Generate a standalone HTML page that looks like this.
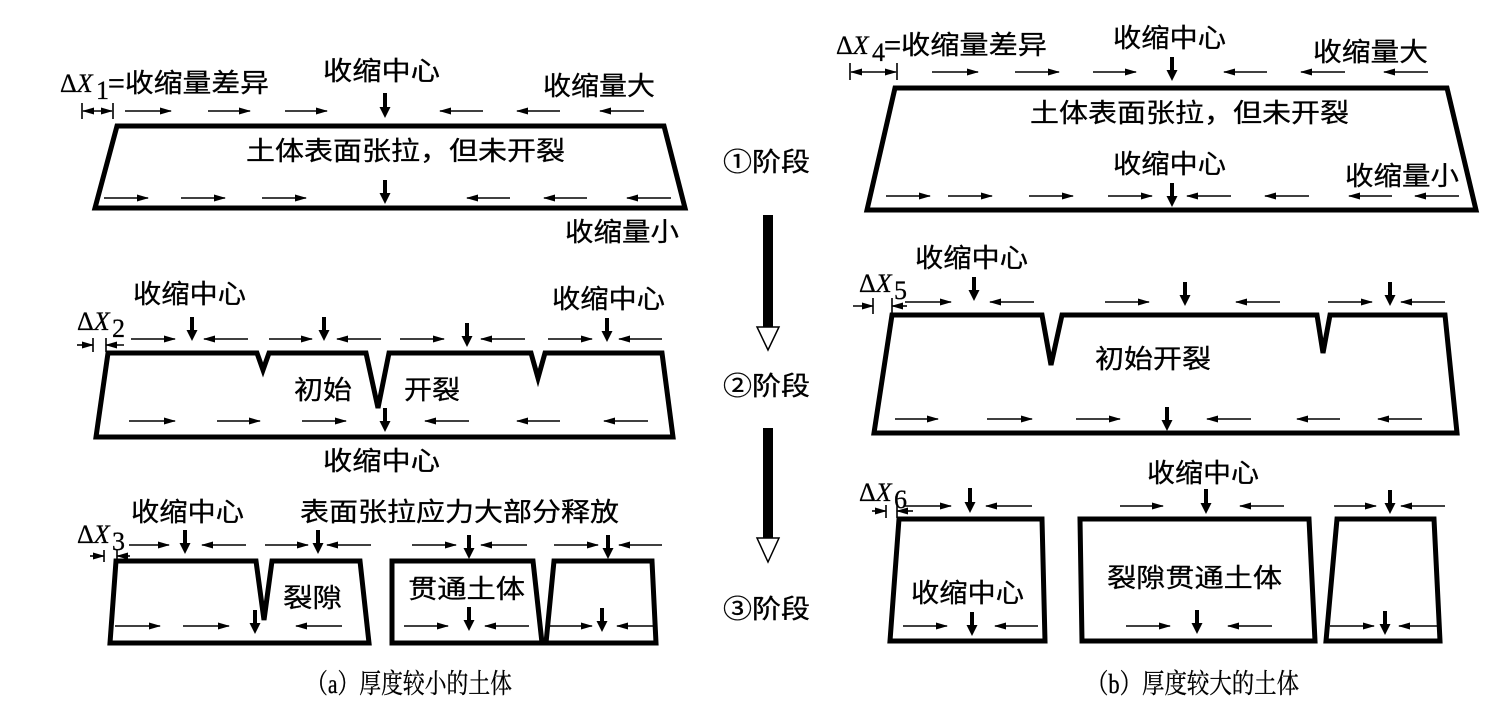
<!DOCTYPE html>
<html><head><meta charset="utf-8"><style>
html,body{margin:0;padding:0;background:#fff;}
svg{display:block;}
text{font-family:"Liberation Sans","Noto Sans CJK SC",sans-serif;font-size:26px;fill:#000;stroke:#000;stroke-width:0.3;}
.s{font-family:"Liberation Serif","Noto Serif CJK SC",serif;}
.cap{font-family:"Liberation Serif","Noto Serif CJK SC",serif;font-size:27px;}
.sh{fill:none;stroke:#000;stroke-width:5;stroke-linejoin:miter;}
.a{stroke:#000;stroke-width:1.6;marker-end:url(#h);}
.d{stroke:#000;stroke-width:4;marker-end:url(#hd);}
.t{stroke:#000;stroke-width:1.6;}
.dm{stroke:#000;stroke-width:1.6;marker-end:url(#h);marker-start:url(#h);}
</style></head><body>
<svg width="1510" height="717" viewBox="0 0 1510 717" xmlns="http://www.w3.org/2000/svg">
<defs>
<marker id="h" markerUnits="userSpaceOnUse" markerWidth="12" markerHeight="8" refX="11" refY="4" orient="auto-start-reverse"><path d="M0,0.5 L12,4 L0,7.5 Z" fill="#000"/></marker>
<marker id="hd" markerUnits="userSpaceOnUse" markerWidth="11" markerHeight="11" refX="6" refY="5.5" orient="auto"><path d="M0,0 L11,5.5 L0,11 Z" fill="#000"/></marker>
</defs>

<!-- ============ LEFT (a) ============ -->
<text class="s" x="60" y="92" font-size="28">Δ<tspan font-style="italic">X</tspan></text>
<text class="s" x="96" y="99" font-size="19">1</text>
<text x="108" y="92" textLength="161" lengthAdjust="spacingAndGlyphs">=收缩量差异</text>
<text x="323" y="80" textLength="117" lengthAdjust="spacingAndGlyphs">收缩中心</text>
<text x="543" y="95" textLength="112" lengthAdjust="spacingAndGlyphs">收缩量大</text>
<line class="t" x1="82" y1="103" x2="82" y2="119"/><line class="t" x1="113" y1="103" x2="113" y2="119"/>
<line class="dm" x1="83" y1="111" x2="112" y2="111"/>
<line class="a" x1="125" y1="111" x2="171" y2="111"/>
<line class="a" x1="208" y1="111" x2="250" y2="111"/>
<line class="a" x1="285" y1="111" x2="327" y2="111"/>
<line class="d" x1="385" y1="93" x2="385" y2="113"/>
<line class="a" x1="483" y1="111" x2="440" y2="111"/>
<line class="a" x1="560" y1="111" x2="517" y2="111"/>
<line class="a" x1="644" y1="111" x2="600" y2="111"/>
<polygon class="sh" points="117,126 664,126 685,208 95,208"/>
<text x="246" y="160" textLength="319" lengthAdjust="spacingAndGlyphs">土体表面张拉，但未开裂</text>
<line class="a" x1="104" y1="198" x2="148" y2="198"/>
<line class="a" x1="181" y1="198" x2="225" y2="198"/>
<line class="a" x1="262" y1="198" x2="306" y2="198"/>
<line class="d" x1="385" y1="180" x2="385" y2="199"/>
<line class="a" x1="510" y1="198" x2="467" y2="198"/>
<line class="a" x1="587" y1="198" x2="544" y2="198"/>
<line class="a" x1="671" y1="198" x2="627" y2="198"/>
<text x="565" y="241" textLength="114" lengthAdjust="spacingAndGlyphs">收缩量小</text>

<text x="133" y="303" textLength="113" lengthAdjust="spacingAndGlyphs">收缩中心</text>
<text x="552" y="308" textLength="113" lengthAdjust="spacingAndGlyphs">收缩中心</text>
<text class="s" x="77" y="330" font-size="28">Δ<tspan font-style="italic">X</tspan></text>
<text class="s" x="112" y="337" font-size="19">2</text>
<line class="t" x1="93" y1="338" x2="93" y2="352"/><line class="t" x1="106" y1="338" x2="106" y2="352"/>
<line class="a" x1="77" y1="345" x2="93" y2="345"/>
<line class="a" x1="124" y1="345" x2="106" y2="345"/>
<line class="a" x1="131" y1="339" x2="175" y2="339"/>
<line class="d" x1="192" y1="317" x2="192" y2="336"/>
<line class="a" x1="248" y1="339" x2="204" y2="339"/>
<line class="a" x1="269" y1="339" x2="312" y2="339"/>
<line class="d" x1="324" y1="317" x2="324" y2="336"/>
<line class="a" x1="381" y1="339" x2="337" y2="339"/>
<line class="a" x1="400" y1="339" x2="444" y2="339"/>
<line class="d" x1="467" y1="323" x2="467" y2="342"/>
<line class="a" x1="525" y1="339" x2="481" y2="339"/>
<line class="a" x1="548" y1="339" x2="592" y2="339"/>
<line class="d" x1="607" y1="318" x2="607" y2="337"/>
<line class="a" x1="662" y1="339" x2="619" y2="339"/>
<path class="sh" d="M108,353 L257,353 L263,370 L269,353 L366,353 L378,408 L389,353 L531,353 L538,378 L545,353 L662,353 L673,437 L96,437 Z"/>
<text x="294" y="399" textLength="58" lengthAdjust="spacingAndGlyphs">初始</text>
<text x="404" y="399" textLength="56" lengthAdjust="spacingAndGlyphs">开裂</text>
<line class="a" x1="129" y1="421" x2="175" y2="421"/>
<line class="a" x1="217" y1="421" x2="260" y2="421"/>
<line class="a" x1="302" y1="421" x2="346" y2="421"/>
<line class="d" x1="385" y1="408" x2="385" y2="427"/>
<line class="a" x1="469" y1="421" x2="425" y2="421"/>
<line class="a" x1="560" y1="421" x2="517" y2="421"/>
<line class="a" x1="648" y1="421" x2="604" y2="421"/>
<text x="323" y="470" textLength="117" lengthAdjust="spacingAndGlyphs">收缩中心</text>

<text x="131" y="521" textLength="113" lengthAdjust="spacingAndGlyphs">收缩中心</text>
<text x="300" y="521" textLength="319" lengthAdjust="spacingAndGlyphs">表面张拉应力大部分释放</text>
<text class="s" x="77" y="543" font-size="28">Δ<tspan font-style="italic">X</tspan></text>
<text class="s" x="112" y="550" font-size="19">3</text>
<line class="t" x1="104" y1="550" x2="104" y2="562"/><line class="t" x1="117" y1="550" x2="117" y2="562"/>
<line class="a" x1="90" y1="556" x2="104" y2="556"/>
<line class="a" x1="130" y1="556" x2="117" y2="556"/>
<line class="a" x1="129" y1="545" x2="169" y2="545"/>
<line class="d" x1="185" y1="530" x2="185" y2="549"/>
<line class="a" x1="246" y1="545" x2="202" y2="545"/>
<line class="a" x1="265" y1="545" x2="308" y2="545"/>
<line class="d" x1="318" y1="530" x2="318" y2="549"/>
<line class="a" x1="371" y1="545" x2="327" y2="545"/>
<line class="a" x1="412" y1="545" x2="456" y2="545"/>
<line class="d" x1="469" y1="535" x2="469" y2="554"/>
<line class="a" x1="527" y1="545" x2="481" y2="545"/>
<line class="a" x1="554" y1="545" x2="598" y2="545"/>
<line class="d" x1="608" y1="535" x2="608" y2="554"/>
<line class="a" x1="662" y1="545" x2="619" y2="545"/>
<path class="sh" d="M116,561 L256,561 L264,620 L272,561 L360,561 L369,643 L110,643 Z"/>
<polygon class="sh" points="392,561 533,561 542,643 392,643"/>
<polygon class="sh" points="554,561 652,561 656,643 546,643"/>
<text x="283" y="607" textLength="59" lengthAdjust="spacingAndGlyphs">裂隙</text>
<text x="408" y="598" textLength="117" lengthAdjust="spacingAndGlyphs">贯通土体</text>
<line class="a" x1="115" y1="626" x2="160" y2="626"/>
<line class="a" x1="183" y1="626" x2="229" y2="626"/>
<line class="d" x1="255" y1="610" x2="255" y2="629"/>
<line class="a" x1="342" y1="626" x2="296" y2="626"/>
<line class="a" x1="404" y1="626" x2="448" y2="626"/>
<line class="d" x1="469" y1="607" x2="469" y2="626"/>
<line class="a" x1="529" y1="626" x2="485" y2="626"/>
<line class="a" x1="550" y1="626" x2="592" y2="626"/>
<line class="d" x1="602" y1="608" x2="602" y2="627"/>
<line class="a" x1="654" y1="626" x2="617" y2="626"/>
<text class="cap" x="306" y="693" textLength="206" lengthAdjust="spacingAndGlyphs">（a）厚度较小的土体</text>

<!-- ============ MIDDLE ============ -->
<text x="723" y="171" textLength="87" lengthAdjust="spacingAndGlyphs">①阶段</text>
<rect x="763" y="215" width="10" height="112" fill="#000"/>
<polygon points="757,327 779,327 768,350" fill="#fff" stroke="#000" stroke-width="1.5"/>
<text x="723" y="395" textLength="87" lengthAdjust="spacingAndGlyphs">②阶段</text>
<rect x="763" y="428" width="10" height="110" fill="#000"/>
<polygon points="757,538 779,538 768,562" fill="#fff" stroke="#000" stroke-width="1.5"/>
<text x="723" y="618" textLength="87" lengthAdjust="spacingAndGlyphs">③阶段</text>

<!-- ============ RIGHT (b) ============ -->
<text class="s" x="836" y="54" font-size="28">Δ<tspan font-style="italic">X</tspan></text>
<text class="s" x="872" y="61" font-size="19">4</text>
<text x="884" y="54" textLength="163" lengthAdjust="spacingAndGlyphs">=收缩量差异</text>
<text x="1113" y="47" textLength="113" lengthAdjust="spacingAndGlyphs">收缩中心</text>
<text x="1313" y="61" textLength="115" lengthAdjust="spacingAndGlyphs">收缩量大</text>
<line class="t" x1="850" y1="63" x2="850" y2="80"/><line class="t" x1="897" y1="63" x2="897" y2="80"/>
<line class="dm" x1="851" y1="72" x2="896" y2="72"/>
<line class="a" x1="932" y1="72" x2="978" y2="72"/>
<line class="a" x1="1015" y1="72" x2="1059" y2="72"/>
<line class="a" x1="1093" y1="72" x2="1136" y2="72"/>
<line class="d" x1="1172" y1="57" x2="1172" y2="76"/>
<line class="a" x1="1267" y1="72" x2="1224" y2="72"/>
<line class="a" x1="1345" y1="72" x2="1301" y2="72"/>
<line class="a" x1="1428" y1="72" x2="1384" y2="72"/>
<polygon class="sh" points="895,88 1447,88 1476,210 867,210"/>
<text x="1030" y="122" textLength="319" lengthAdjust="spacingAndGlyphs">土体表面张拉，但未开裂</text>
<text x="1113" y="173" textLength="113" lengthAdjust="spacingAndGlyphs">收缩中心</text>
<text x="1345" y="185" textLength="114" lengthAdjust="spacingAndGlyphs">收缩量小</text>
<line class="a" x1="886" y1="196" x2="930" y2="196"/>
<line class="a" x1="948" y1="196" x2="992" y2="196"/>
<line class="a" x1="1029" y1="196" x2="1073" y2="196"/>
<line class="a" x1="1108" y1="196" x2="1152" y2="196"/>
<line class="d" x1="1172" y1="183" x2="1172" y2="202"/>
<line class="a" x1="1231" y1="196" x2="1187" y2="196"/>
<line class="a" x1="1309" y1="196" x2="1265" y2="196"/>
<line class="a" x1="1392" y1="196" x2="1349" y2="196"/>
<line class="a" x1="1459" y1="196" x2="1415" y2="196"/>

<text x="915" y="267" textLength="113" lengthAdjust="spacingAndGlyphs">收缩中心</text>
<text class="s" x="859" y="292" font-size="28">Δ<tspan font-style="italic">X</tspan></text>
<text class="s" x="894" y="299" font-size="19">5</text>
<line class="t" x1="873" y1="298" x2="873" y2="314"/><line class="t" x1="892" y1="298" x2="892" y2="314"/>
<line class="a" x1="853" y1="306" x2="873" y2="306"/>
<line class="a" x1="907" y1="306" x2="892" y2="306"/>
<line class="a" x1="905" y1="302" x2="951" y2="302"/>
<line class="d" x1="974" y1="277" x2="974" y2="296"/>
<line class="a" x1="1034" y1="302" x2="990" y2="302"/>
<line class="a" x1="1105" y1="302" x2="1149" y2="302"/>
<line class="d" x1="1185" y1="282" x2="1185" y2="301"/>
<line class="a" x1="1280" y1="302" x2="1236" y2="302"/>
<line class="a" x1="1328" y1="302" x2="1372" y2="302"/>
<line class="d" x1="1390" y1="282" x2="1390" y2="301"/>
<line class="a" x1="1445" y1="302" x2="1401" y2="302"/>
<path class="sh" d="M892,315 L1042,315 L1051,365 L1062,315 L1317,315 L1323,353 L1330,315 L1445,315 L1457,433 L874,433 Z"/>
<text x="1095" y="368" textLength="116" lengthAdjust="spacingAndGlyphs">初始开裂</text>
<line class="a" x1="895" y1="419" x2="938" y2="419"/>
<line class="a" x1="987" y1="419" x2="1032" y2="419"/>
<line class="a" x1="1076" y1="419" x2="1120" y2="419"/>
<line class="d" x1="1167" y1="407" x2="1167" y2="426"/>
<line class="a" x1="1251" y1="419" x2="1207" y2="419"/>
<line class="a" x1="1340" y1="419" x2="1297" y2="419"/>
<line class="a" x1="1422" y1="419" x2="1378" y2="419"/>

<text x="1147" y="482" textLength="112" lengthAdjust="spacingAndGlyphs">收缩中心</text>
<text class="s" x="859" y="501" font-size="28">Δ<tspan font-style="italic">X</tspan></text>
<text class="s" x="894" y="508" font-size="19">6</text>
<line class="t" x1="886" y1="505" x2="886" y2="518"/><line class="t" x1="897" y1="505" x2="897" y2="518"/>
<line class="a" x1="872" y1="511" x2="886" y2="511"/>
<line class="a" x1="913" y1="511" x2="897" y2="511"/>
<line class="a" x1="905" y1="506" x2="951" y2="506"/>
<line class="d" x1="970" y1="488" x2="970" y2="508"/>
<line class="a" x1="1032" y1="506" x2="986" y2="506"/>
<line class="a" x1="1120" y1="506" x2="1163" y2="506"/>
<line class="d" x1="1206" y1="489" x2="1206" y2="509"/>
<line class="a" x1="1284" y1="506" x2="1240" y2="506"/>
<line class="a" x1="1334" y1="506" x2="1376" y2="506"/>
<line class="d" x1="1390" y1="490" x2="1390" y2="509"/>
<line class="a" x1="1445" y1="506" x2="1401" y2="506"/>
<polygon class="sh" points="899,519 1042,519 1045,641 890,641"/>
<polygon class="sh" points="1080,519 1309,519 1315,641 1082,641"/>
<polygon class="sh" points="1337,519 1434,519 1440,641 1326,641"/>
<text x="911" y="602" textLength="113" lengthAdjust="spacingAndGlyphs">收缩中心</text>
<text x="1107" y="587" textLength="175" lengthAdjust="spacingAndGlyphs">裂隙贯通土体</text>
<line class="a" x1="903" y1="626" x2="947" y2="626"/>
<line class="d" x1="972" y1="612" x2="972" y2="631"/>
<line class="a" x1="1038" y1="626" x2="995" y2="626"/>
<line class="a" x1="1126" y1="626" x2="1170" y2="626"/>
<line class="d" x1="1197" y1="610" x2="1197" y2="629"/>
<line class="a" x1="1272" y1="626" x2="1228" y2="626"/>
<line class="a" x1="1330" y1="626" x2="1374" y2="626"/>
<line class="d" x1="1385" y1="611" x2="1385" y2="630"/>
<line class="a" x1="1438" y1="626" x2="1399" y2="626"/>
<text class="cap" x="1086" y="693" textLength="213" lengthAdjust="spacingAndGlyphs">（b）厚度较大的土体</text>
</svg>
</body></html>
